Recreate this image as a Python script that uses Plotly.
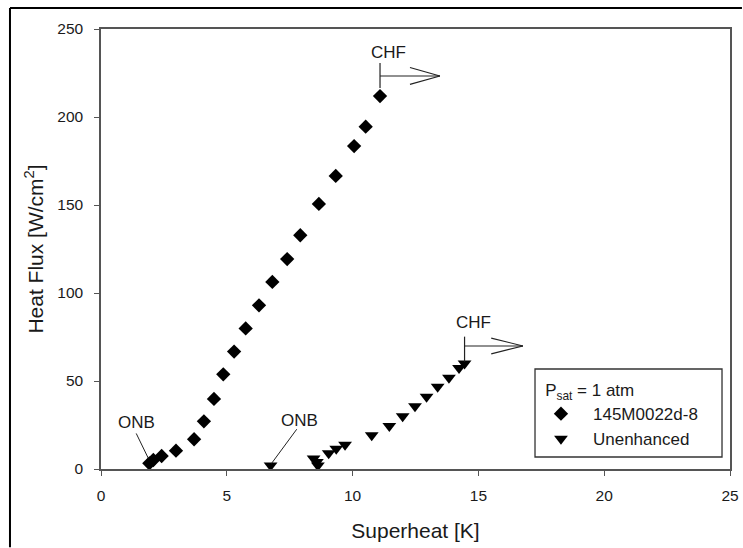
import plotly.graph_objects as go

# Boiling curves at P_sat = 1 atm
enh_superheat = [1.92, 2.08, 2.41, 2.98, 3.70, 4.09, 4.49, 4.86, 5.29, 5.75,
                 6.28, 6.81, 7.40, 7.92, 8.66, 9.33, 10.06, 10.52, 11.09]
enh_flux = [3.2, 5.1, 7.4, 10.4, 16.9, 27.1, 39.8, 53.8, 66.7, 79.9,
            93.0, 106.3, 119.3, 132.8, 150.6, 166.5, 183.5, 194.5, 211.9]

unenh_superheat = [6.74, 8.45, 8.58, 8.62, 9.05, 9.35, 9.70, 10.76, 11.46,
                   11.99, 12.48, 12.94, 13.38, 13.83, 14.23, 14.45]
unenh_flux = [2.0, 6.0, 4.0, 2.0, 9.0, 11.5, 13.8, 19.2, 24.5,
              30.0, 35.6, 41.0, 46.7, 51.8, 57.4, 60.0]

series_names = ["145M0022d-8", "Unenhanced"]
x_ticks = [0, 5, 10, 15, 20, 25]
y_ticks = [0, 50, 100, 150, 200, 250]

FONT = "Liberation Sans, Arial, sans-serif"
INK = "#1a1a1a"
AXIS = "#555555"

fig = go.Figure()
fig.add_trace(go.Scatter(
    x=enh_superheat, y=enh_flux, mode="markers", name=series_names[0],
    marker=dict(symbol="diamond", size=11, color="black"),
))
fig.add_trace(go.Scatter(
    x=unenh_superheat, y=unenh_flux, mode="markers", name=series_names[1],
    marker=dict(symbol="triangle-down", size=12, color="black"),
))

shapes = []
annotations = []


def chf_marker(x, y, v0, v1, vh, length, head_back, head_half, tx, ty):
    """Vertical tick above the CHF point with an open arrow pointing right."""
    line = dict(color="#222222", width=1.2)
    shapes.append(dict(type="line", xref="x", yref="y", x0=x, x1=x,
                       y0=y + v0, y1=y + v1, line=line))
    shapes.append(dict(type="line", xref="x", yref="y", x0=x, x1=x + length,
                       y0=y + vh, y1=y + vh, line=line))
    tip = x + length
    for s in (1, -1):
        shapes.append(dict(type="line", xref="x", yref="y",
                           x0=tip - head_back, x1=tip,
                           y0=y + vh + s * head_half, y1=y + vh, line=line))
    annotations.append(dict(x=tx, y=ty, xref="x", yref="y", text="CHF",
                            showarrow=False, xanchor="center", yanchor="middle",
                            font=dict(size=17, family=FONT, color=INK)))


chf_marker(enh_superheat[-1], enh_flux[-1], 4.6, 18.8, 11.4, 2.38, 1.19, 4.8,
           11.41, 236.9)
chf_marker(unenh_superheat[-1], unenh_flux[-1], 1.0, 15.2, 9.9, 2.32, 1.26, 4.5,
           14.79, 83.0)


def onb_label(tx, ty, lx0, ly0, lx1, ly1):
    shapes.append(dict(type="line", xref="x", yref="y", x0=lx0, y0=ly0,
                       x1=lx1, y1=ly1, line=dict(color="#222222", width=1)))
    annotations.append(dict(x=tx, y=ty, xref="x", yref="y", text="ONB",
                            showarrow=False, xanchor="center", yanchor="middle",
                            font=dict(size=17, family=FONT, color=INK)))


onb_label(1.40, 26.7, 1.40, 20.2, 1.88, 6.1)
onb_label(7.87, 27.8, 7.78, 22.6, 6.78, 3.2)

# Outer frame around the figure (kept inside the page)
frame = dict(color="black", width=2)
shapes.append(dict(type="line", xref="paper", yref="paper",
                   x0=-0.1447, x1=1.019, y0=1.0477, y1=1.0477, line=frame))
shapes.append(dict(type="line", xref="paper", yref="paper",
                   x0=-0.1447, x1=-0.1447, y0=-0.178, y1=1.0477, line=frame))

# Legend box
shapes.append(dict(type="rect", xref="paper", yref="paper",
                   x0=0.690, x1=0.9873, y0=0.0273, y1=0.2273,
                   line=dict(color="#333333", width=1.3), fillcolor="white",
                   layer="below"))

axis_common = dict(
    showline=True, linecolor=AXIS, linewidth=1.5, mirror=True,
    ticks="outside", ticklen=5, tickwidth=1.2, tickcolor=AXIS,
    showgrid=False, zeroline=False, automargin=False,
    tickfont=dict(size=15.5, family=FONT, color=INK),
)

fig.update_layout(
    width=743, height=548,
    margin=dict(l=101, r=13, t=29, b=79, autoexpand=False),
    paper_bgcolor="white", plot_bgcolor="rgba(0,0,0,0)",
    font=dict(family=FONT, color=INK),
    xaxis=dict(range=[0, 25], tickvals=x_ticks, ticklabelstandoff=7,
               title=dict(text="Superheat [K]", standoff=20,
                          font=dict(size=21, family=FONT, color=INK)),
               **axis_common),
    yaxis=dict(range=[0, 250], tickvals=y_ticks, ticklabelstandoff=8,
               title=dict(text="Heat Flux [W/cm<sup>2</sup>]", standoff=8,
                          font=dict(size=21, family=FONT, color=INK)),
               **axis_common),
    legend=dict(
        x=0.6804, y=0.2159, xanchor="left", yanchor="top",
        borderwidth=0, bgcolor="rgba(0,0,0,0)",
        title=dict(text="&nbsp;&nbsp;&nbsp;P<sub>sat</sub> = 1 atm",
                   font=dict(size=17, family=FONT, color=INK)),
        font=dict(size=17, family=FONT, color=INK),
        itemwidth=54, tracegroupgap=0,
    ),
    shapes=shapes,
    annotations=annotations,
)

fig.write_html("out.html")
